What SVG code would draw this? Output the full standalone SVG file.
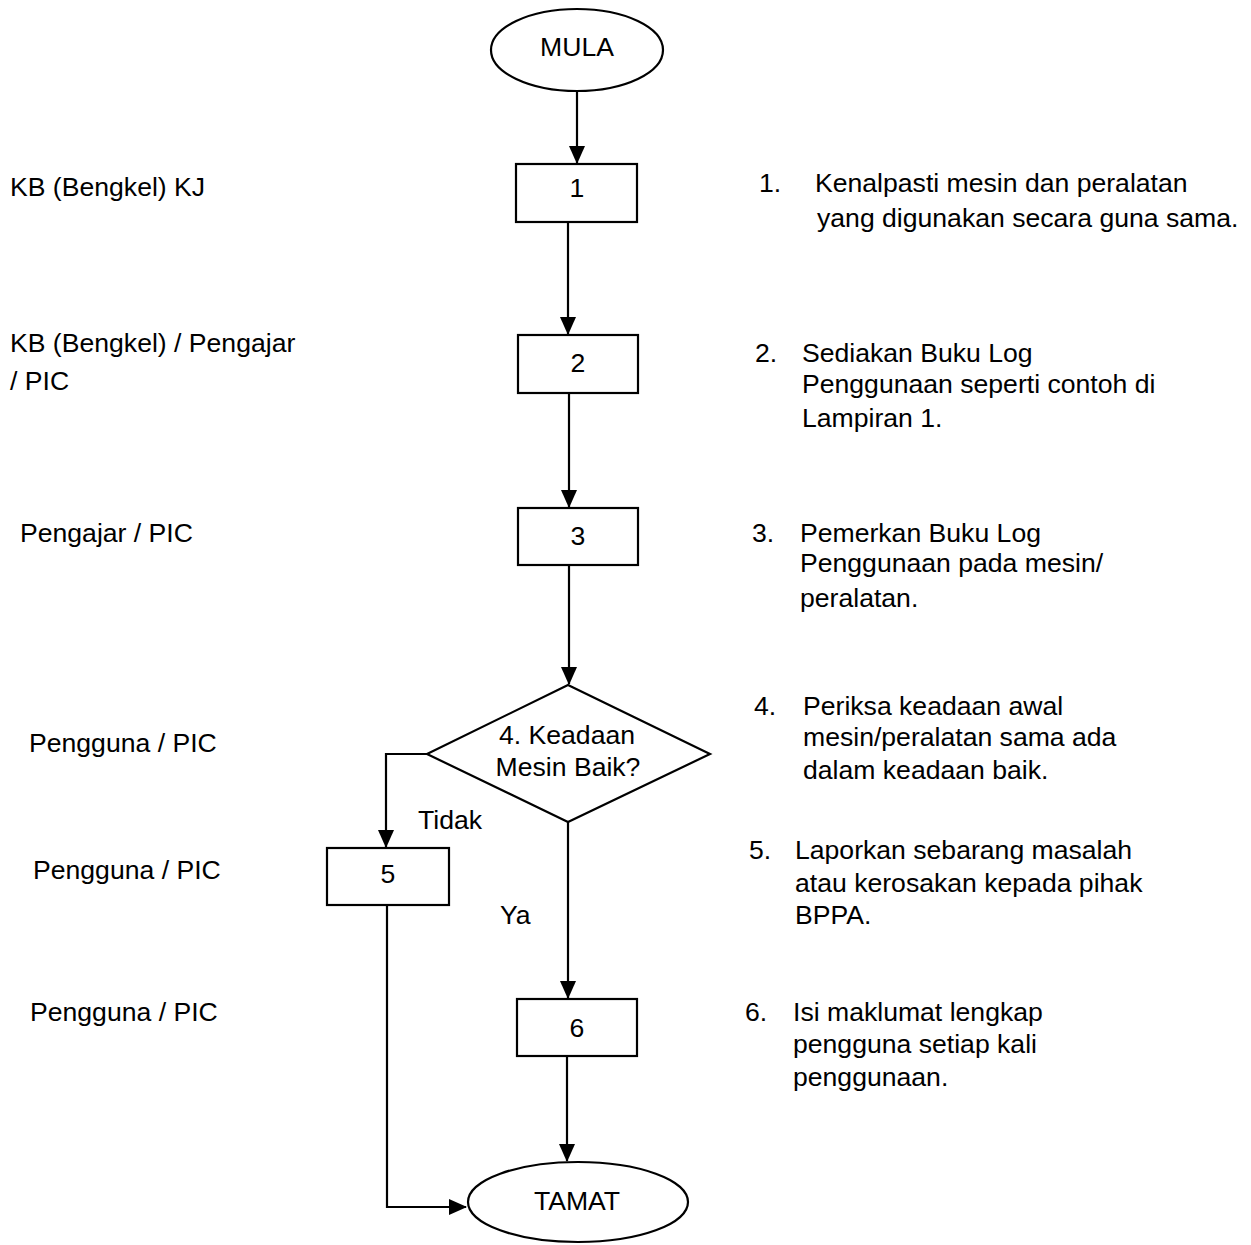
<svg xmlns="http://www.w3.org/2000/svg" width="1251" height="1245" viewBox="0 0 1251 1245">
<style>
  text { font-family: "Liberation Sans", Arial, sans-serif; font-size: 26.6px; fill: #000; }
  .c { text-anchor: middle; }
  .shape { fill: #fff; stroke: #000; stroke-width: 2.2; }
  .conn { fill: none; stroke: #000; stroke-width: 2.2; }
</style>
<defs>
  <marker id="arr" markerUnits="userSpaceOnUse" markerWidth="18" markerHeight="16" viewBox="0 0 18 16" refX="17" refY="8" orient="auto">
    <path d="M0,0 L18,8 L0,16 z" fill="#000"/>
  </marker>
</defs>
<rect width="1251" height="1245" fill="#fff"/>

<g id="connectors">
  <line class="conn" x1="577" y1="91" x2="577" y2="163" marker-end="url(#arr)"/>
  <line class="conn" x1="568" y1="222" x2="568" y2="334" marker-end="url(#arr)"/>
  <line class="conn" x1="569" y1="393" x2="569" y2="507" marker-end="url(#arr)"/>
  <line class="conn" x1="569" y1="565" x2="569" y2="684" marker-end="url(#arr)"/>
  <polyline class="conn" points="427,754 386,754 386,847" marker-end="url(#arr)"/>
  <line class="conn" x1="568" y1="822" x2="568" y2="998" marker-end="url(#arr)"/>
  <line class="conn" x1="567" y1="1056" x2="567" y2="1161" marker-end="url(#arr)"/>
  <polyline class="conn" points="387,905 387,1207 466,1207" marker-end="url(#arr)"/>
</g>

<g id="mula">
  <ellipse class="shape" cx="577" cy="50" rx="86" ry="41"/>
  <text class="c" x="577" y="56">MULA</text>
</g>
<g id="step1">
  <rect class="shape" x="516" y="164" width="121" height="58"/>
  <text class="c" x="577" y="197">1</text>
</g>
<g id="step2">
  <rect class="shape" x="518" y="335" width="120" height="58"/>
  <text class="c" x="578" y="372">2</text>
</g>
<g id="step3">
  <rect class="shape" x="518" y="508" width="120" height="57"/>
  <text class="c" x="578" y="545">3</text>
</g>
<g id="step4">
  <polygon class="shape" points="568,685 710,754 568,822 427,754"/>
  <text class="c" x="567" y="744">4. Keadaan</text>
  <text class="c" x="568" y="776">Mesin Baik?</text>
</g>
<g id="step5">
  <rect class="shape" x="327" y="848" width="122" height="57"/>
  <text class="c" x="388" y="883">5</text>
</g>
<g id="step6">
  <rect class="shape" x="517" y="999" width="120" height="57"/>
  <text class="c" x="577" y="1037">6</text>
</g>
<g id="tamat">
  <ellipse class="shape" cx="578" cy="1202" rx="110" ry="40"/>
  <text class="c" x="577" y="1210">TAMAT</text>
</g>

<g id="branch-labels">
  <text x="418" y="829">Tidak</text>
  <text x="500" y="924">Ya</text>
</g>

<g id="roles">
  <text x="10" y="196">KB (Bengkel) KJ</text>
  <text x="10" y="352">KB (Bengkel) / Pengajar</text>
  <text x="10" y="390">/ PIC</text>
  <text x="20" y="542">Pengajar / PIC</text>
  <text x="29" y="752">Pengguna / PIC</text>
  <text x="33" y="879">Pengguna / PIC</text>
  <text x="30" y="1021">Pengguna / PIC</text>
</g>

<g id="descriptions">
  <text x="759" y="192">1.</text>
  <text x="815" y="192">Kenalpasti mesin dan peralatan</text>
  <text x="817" y="227">yang digunakan secara guna sama.</text>

  <text x="755" y="362">2.</text>
  <text x="802" y="362">Sediakan Buku Log</text>
  <text x="802" y="393">Penggunaan seperti contoh di</text>
  <text x="802" y="427">Lampiran 1.</text>

  <text x="752" y="542">3.</text>
  <text x="800" y="542">Pemerkan Buku Log</text>
  <text x="800" y="572">Penggunaan pada mesin/</text>
  <text x="800" y="607">peralatan.</text>

  <text x="754" y="715">4.</text>
  <text x="803" y="715">Periksa keadaan awal</text>
  <text x="803" y="746">mesin/peralatan sama ada</text>
  <text x="803" y="779">dalam keadaan baik.</text>

  <text x="749" y="859">5.</text>
  <text x="795" y="859">Laporkan sebarang masalah</text>
  <text x="795" y="892">atau kerosakan kepada pihak</text>
  <text x="795" y="924">BPPA.</text>

  <text x="745" y="1021">6.</text>
  <text x="793" y="1021">Isi maklumat lengkap</text>
  <text x="793" y="1053">pengguna setiap kali</text>
  <text x="793" y="1086">penggunaan.</text>
</g>
</svg>
